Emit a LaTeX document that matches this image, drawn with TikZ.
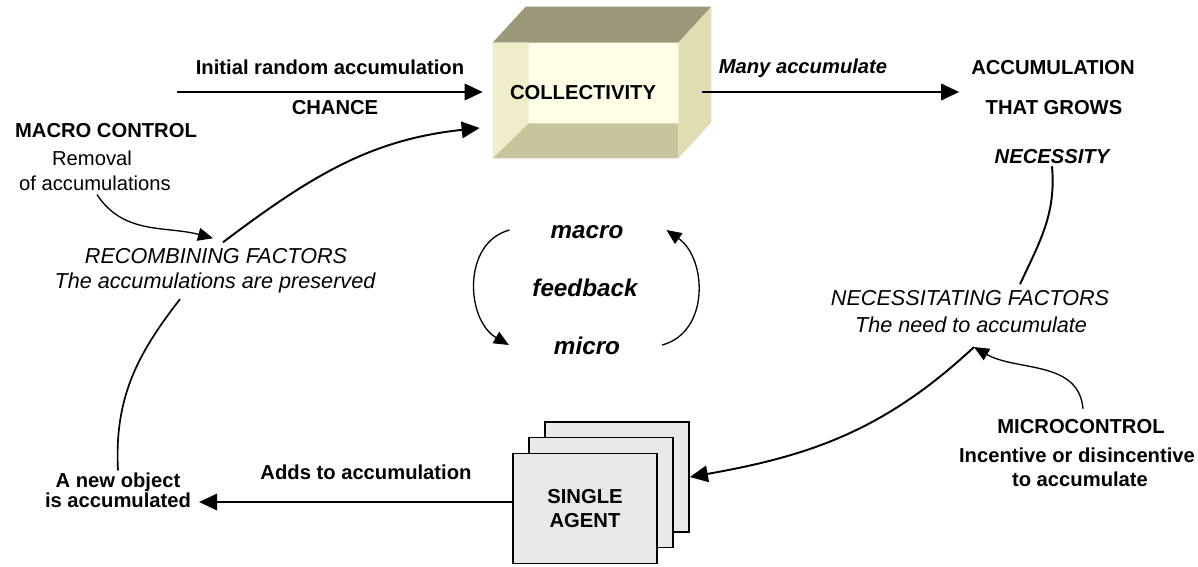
\documentclass[tikz,border=0pt]{standalone}
\usepackage{fontspec}
\setmainfont{Liberation Sans}
\usepackage{xcolor}
\usepackage{tikz}
\usetikzlibrary{calc,arrows.meta,positioning}
\definecolor{topf}{HTML}{9B9879}
\definecolor{sidef}{HTML}{E0DDB3}
\definecolor{frontf}{HTML}{FFFEE6}
\definecolor{leftf}{HTML}{EFEDCA}
\definecolor{botf}{HTML}{C8C59E}
\definecolor{agentbg}{HTML}{E8E8E8}
\tikzset{
  ar/.style={-{Triangle[length=3.6mm,width=3.3mm]},line width=1.1pt},
  arr/.style={-{Triangle[length=3mm,width=2.6mm]},line width=0.75pt},
  ln/.style={line width=1.1pt},
  bl/.style={font=\fontsize{11.5}{14}\selectfont\bfseries,align=center,inner sep=1pt},
  rg/.style={font=\fontsize{11.5}{14}\selectfont,align=center,inner sep=1pt},
  bi/.style={font=\fontsize{11.5}{14}\selectfont\bfseries\itshape,inner sep=1pt},
  it/.style={font=\fontsize{12.3}{15}\selectfont\itshape,inner sep=1pt},
  fb/.style={font=\fontsize{13.8}{16}\selectfont\bfseries\itshape,inner sep=1pt},
  agent/.style={draw,line width=1pt,fill=agentbg,minimum width=2.88cm,minimum height=2.2cm}
}
\begin{document}
\begin{tikzpicture}[x=0.02cm,y=0.02cm]
\useasboundingbox (0,0) rectangle (1198,-566);
% collectivity cube
\node[inner sep=0,minimum width=3.7cm,minimum height=2.3cm] (cube) at (585.5,-100.5) {};
\fill[topf] (cube.north west) -- ++(33,36) -- ($(cube.north east)+(33,36)$) -- (cube.north east) -- cycle;
\fill[sidef] (cube.north east) -- ++(33,36) -- ($(cube.south east)+(33,36)$) -- (cube.south east) -- cycle;
\fill[frontf] (cube.north west) rectangle (cube.south east);
\fill[leftf] (cube.north west) -- ++(36,0) -- ($(cube.south west)+(36,35)$) -- (cube.south west) -- cycle;
\fill[botf] (cube.south west) -- ++(36,35) -- ($(cube.south east)+(0,35)$) -- (cube.south east) -- cycle;
\node[bl] (coll) at (583,-93) {COLLECTIVITY};
% agents
\node[agent] (ag3) at (617,-477) {};
\node[agent] (ag2) at (601,-492.5) {};
\node[agent,bl] (ag1) at (585,-508.5) {SINGLE\\AGENT};
% labels
\node[bl] (initlbl) at (330,-67) {Initial random accumulation};
\node[bl] (chance) at (335,-108) {CHANCE};
\node[bi] (many) at (803,-68) {Many accumulate};
\node[bl] (accum) at (1053,-68) {ACCUMULATION};
\node[bl] (grows) at (1054,-108) {THAT GROWS};
\node[bi] (nec) at (1052,-157) {NECESSITY};
\node[it] (nf1) at (970,-298) {NECESSITATING FACTORS};
\node[it] (nf2) at (971,-325) {The need to accumulate};
\node[bl] (mic) at (1081,-427) {MICROCONTROL};
\node[bl] (inc) at (1077,-455) {Incentive or disincentive};
\node[bl] (toacc) at (1080,-479) {to accumulate};
\node[bl] (mc) at (106,-131) {MACRO CONTROL};
\node[rg] (rem) at (92,-158) {Removal};
\node[rg] (ofacc) at (95,-183) {of accumulations};
\node[it] (rf1) at (216,-256) {RECOMBINING FACTORS};
\node[it] (rf2) at (215,-283) {The accumulations are preserved};
\node[bl,font=\fontsize{11.5}{11.5}\selectfont\bfseries] (newobj) at (118,-490) {A new object\\is accumulated};
\node[bl] (adds) at (366,-472) {Adds to accumulation};
\node[fb] (macro) at (587,-232) {macro};
\node[fb] (feedb) at (585,-288) {feedback};
\node[fb] (micro) at (587,-346) {micro};
% connectors
\coordinate (chs) at (177,-92);
\coordinate (addy) at (0,-502);
\coordinate (nfx) at ($(nf2.south)+(3,-12)$);
\draw[ar] (chs) -- ($(cube.west|-chs)+(-10,0)$);
\draw[ar] ($(cube.east|-chs)+(24,0)$) -- ($(accum.west|-chs)+(-10,0)$);
\draw[ar] ($(rf1.north)+(7,4)$) to[out=37,in=186] ($(cube.west)+(-13,-27.5)$);
\draw[arr] ($(ofacc.south)+(2,-2)$) to[out=-57,in=165] ($(rf1.north)+(-3,8)$);
\draw[ln,line width=0.95pt] ($(rf2.south)+(-35,-4)$) to[out=-128,in=93] (newobj.north);
\draw[ln] (nec.south) to[out=-85,in=65] ($(nf1.north)+(50,4)$);
\draw[arr] ($(mic.north)+(2,9)$) to[out=95,in=-30] (nfx);
\draw[ar] (nfx) to[out=-137,in=10] (ag3.east);
\draw[ar] (ag1.west|-addy) -- ($(newobj.east|-addy)+(6,0)$);
\draw[arr] ($(macro.west)+(-39,2)$) to[out=195,in=150,looseness=1.1] ($(micro.west)+(-43,1)$);
\draw[arr] ($(micro.east)+(40,1)$) to[out=15,in=-35,looseness=1.1] ($(macro.east)+(41,2)$);
\end{tikzpicture}
\end{document}
